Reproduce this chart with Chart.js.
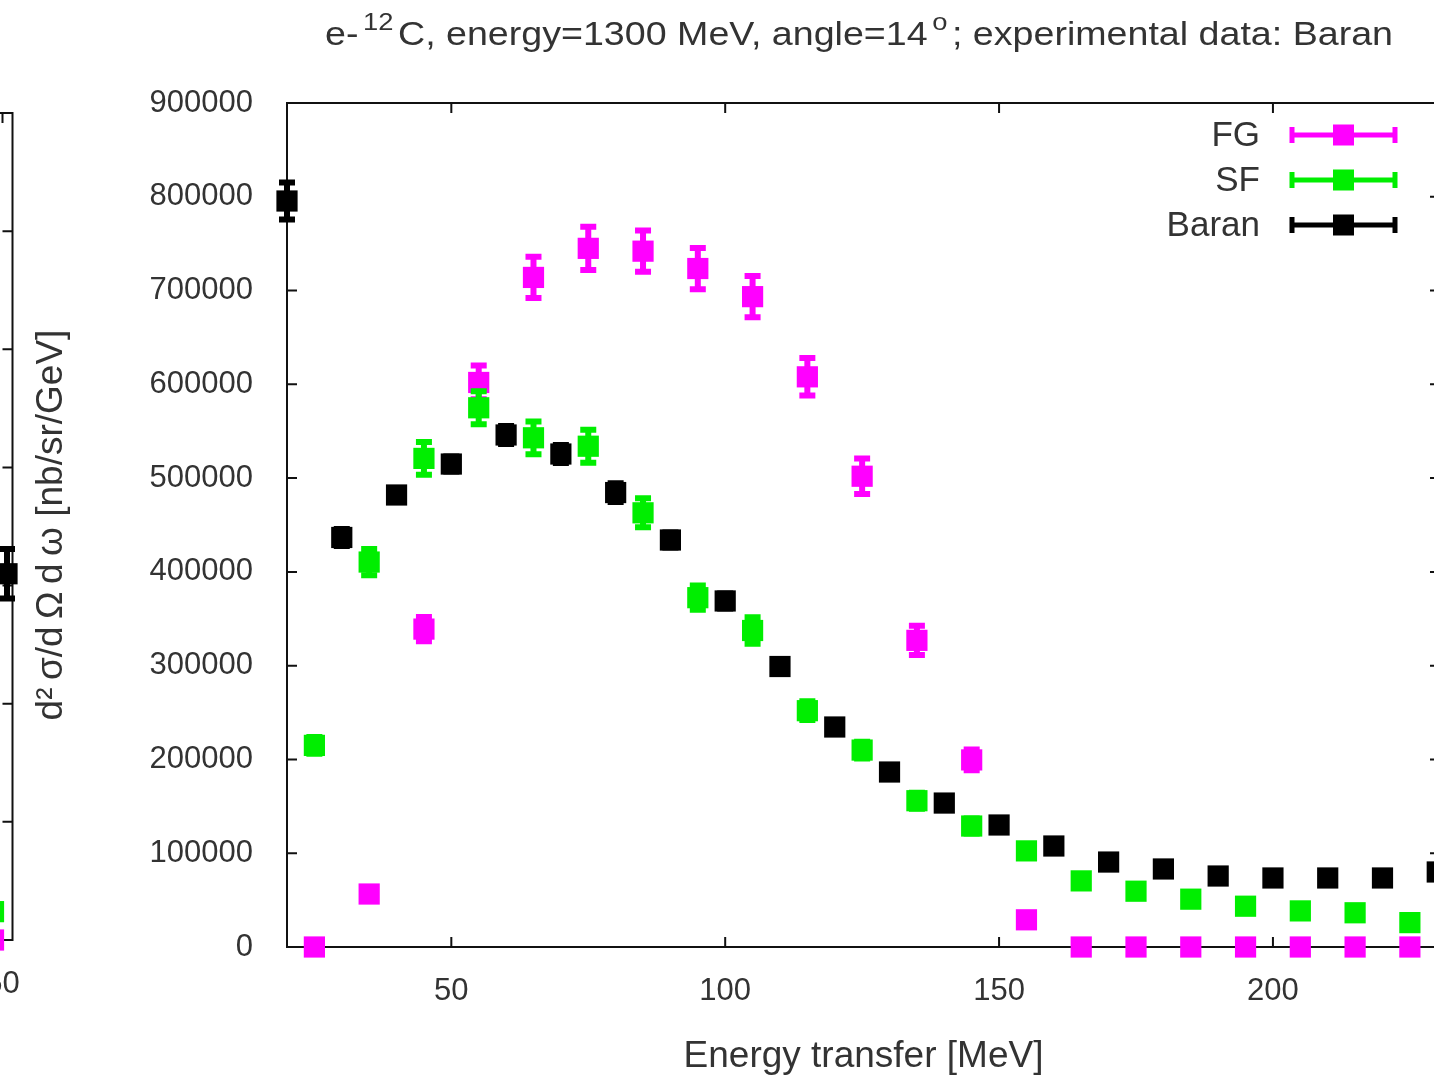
<!DOCTYPE html>
<html>
<head>
<meta charset="utf-8">
<title>e-12C 1300 MeV 14 deg</title>
<script src="https://cdn.jsdelivr.net/npm/chart.js@4.4.0/dist/chart.umd.min.js"></script>
<style>
  html, body { margin: 0; padding: 0; background: #fff; overflow: hidden; width: 1434px; height: 1079px; }
  canvas { position: absolute; top: 0; }
  #left { left: -187px; }
  #main { left: 0; }
</style>
</head>
<body>
<canvas id="left" width="220" height="1079"></canvas>
<canvas id="main" width="1460" height="1079"></canvas>
<script>
// energy transfer [MeV] for the two calculations
var energyCalc = [25, 35, 45, 55, 65, 75, 85, 95, 105, 115, 125, 135, 145, 155, 165, 175, 185, 195, 205, 215, 225];
var fgValues = [0, 56500, 339000, 602000, 714000, 745000, 742000, 723500, 693500, 608000, 502000, 327000, 199500, 29000, 0, 0, 0, 0, 0, 0, 0];
var fgErr    = [0, 4000, 13000, 18000, 22000, 23000, 22000, 22000, 22000, 20000, 19000, 15500, 11000, 3000, 0, 0, 0, 0, 0, 0, 0];
var sfValues = [215000, 410500, 521000, 575000, 543000, 534000, 463000, 372500, 337500, 252000, 210000, 156000, 129000, 102500, 70500, 59500, 51000, 43500, 38500, 36500, 26000];
var sfErr    = [9000, 14000, 17500, 17500, 17500, 17500, 15500, 13000, 14000, 10000, 9000, 8500, 8000, 6000, 5000, 4000, 4000, 3000, 3000, 3000, 2000];

// experimental data (Baran)
var energyData = [20, 30, 40, 50, 60, 70, 80, 90, 100, 110, 120, 130, 140, 150, 160, 170, 180, 190, 200, 210, 220, 230];
var baranValues = [795500, 436700, 482000, 515000, 546000, 525700, 484600, 434000, 369000, 299100, 234600, 186600, 153500, 130100, 107700, 90600, 83200, 75700, 73600, 73600, 73600, 80000];
var baranErr    = [19700, 9000, 5000, 8000, 9500, 9500, 10000, 8000, 8000, 7500, 7000, 6000, 5500, 5000, 4500, 4000, 4000, 3500, 3500, 3500, 3500, 3500];

var xTicks = [50, 100, 150, 200];
var yTicks = [0, 100000, 200000, 300000, 400000, 500000, 600000, 700000, 800000, 900000];

// neighbouring panel, only its right edge is in the picture
var leftEnergyCalc = [45.5];
var leftFg = [0];
var leftSf = [24000];
var leftEnergyData = [52.25];
var leftBaran = [310000];
var leftBaranErr = [21000];
var leftXTicks = [50];
var leftYTicks = [0, 100000, 200000, 300000, 400000, 500000, 600000, 700000];

var titleParts = [['e-', 0], ['12', 1], ['C, energy=1300 MeV, angle=14', 0], ['o', 1], ['; experimental data: Baran', 0]];
var xTitle = 'Energy transfer [MeV]';
var yTitle = 'd\u00b2\u2009\u03c3/d\u2009\u03a9\u2009d\u2009\u03c9 [nb/sr/GeV]';

var FONT = '"Liberation Sans", Arial, sans-serif';
var TEXT = '#333333';
var MAGENTA = '#ff00ff', GREEN = '#00ee00', BLACK = '#000000';

function pts(xs, ys) {
  return xs.map(function (x, i) { return { x: x, y: ys[i] }; });
}

function series(label, xs, ys, errs, color, order) {
  return {
    label: label,
    data: pts(xs, ys),
    errors: errs,
    backgroundColor: color,
    borderColor: color,
    borderWidth: 0,
    pointStyle: 'rect',
    pointRadius: 15,
    pointHoverRadius: 15,
    showLine: false,
    clip: false,
    order: order
  };
}

// border box with inward ticks on all four sides + error bars under each series
var framePlugin = {
  id: 'frame',
  beforeDatasetsDraw: function (chart) {
    var ctx = chart.ctx, a = chart.chartArea, x = chart.scales.x, y = chart.scales.y;
    ctx.save();
    ctx.strokeStyle = '#111';
    ctx.lineWidth = 2;
    ctx.strokeRect(a.left, a.top, a.right - a.left, a.bottom - a.top);
    ctx.beginPath();
    x.ticks.forEach(function (t) {
      var px = x.getPixelForValue(t.value);
      ctx.moveTo(px, a.bottom); ctx.lineTo(px, a.bottom - 10);
      ctx.moveTo(px, a.top); ctx.lineTo(px, a.top + 10);
    });
    y.ticks.forEach(function (t) {
      var py = y.getPixelForValue(t.value);
      ctx.moveTo(a.left, py); ctx.lineTo(a.left + 10, py);
      ctx.moveTo(a.right, py); ctx.lineTo(a.right - 10, py);
    });
    ctx.stroke();
    ctx.restore();
  },
  beforeDatasetDraw: function (chart, args) {
    var ds = chart.data.datasets[args.index];
    if (!ds.errors) return;
    var ctx = chart.ctx, x = chart.scales.x, y = chart.scales.y;
    ctx.save();
    ctx.strokeStyle = ds.borderColor;
    ctx.lineWidth = 6;
    ctx.beginPath();
    ds.data.forEach(function (p, i) {
      var e = ds.errors[i];
      if (!e) return;
      var px = x.getPixelForValue(p.x);
      var lo = y.getPixelForValue(p.y - e), hi = y.getPixelForValue(p.y + e);
      ctx.moveTo(px, lo); ctx.lineTo(px, hi);
      ctx.moveTo(px - 8, lo); ctx.lineTo(px + 8, lo);
      ctx.moveTo(px - 8, hi); ctx.lineTo(px + 8, hi);
    });
    ctx.stroke();
    ctx.restore();
  }
};

// title with raised "12" and "o", stretched to the width gnuplot gave it
var titlePlugin = {
  id: 'supTitle',
  afterDraw: function (chart) {
    var ctx = chart.ctx;
    var big = '33px ' + FONT, small = '24px ' + FONT;
    var left = 325, width = 1068;
    ctx.save();
    ctx.fillStyle = TEXT;
    ctx.textBaseline = 'alphabetic';
    var total = 0;
    titleParts.forEach(function (p) {
      ctx.font = p[1] ? small : big;
      total += ctx.measureText(p[0]).width + (p[1] ? 8 : 0);
    });
    ctx.translate(left, 0);
    ctx.scale(width / total, 1);
    var cx = 0;
    titleParts.forEach(function (p) {
      ctx.font = p[1] ? small : big;
      if (p[1]) cx += 4;
      ctx.fillText(p[0], cx, p[1] ? 30 : 45);
      cx += ctx.measureText(p[0]).width + (p[1] ? 4 : 0);
    });
    ctx.restore();
  }
};

var keyPlugin = {
  id: 'key',
  afterDraw: function (chart) {
    var ctx = chart.ctx;
    var names = ['FG', 'SF', 'Baran'];
    var byLabel = {};
    chart.data.datasets.forEach(function (d) { byLabel[d.label] = d; });
    ctx.save();
    ctx.font = '35px ' + FONT;
    ctx.textAlign = 'right';
    ctx.textBaseline = 'middle';
    names.forEach(function (n, r) {
      var d = byLabel[n];
      var yy = 135 + r * 45;
      ctx.fillStyle = TEXT;
      ctx.fillText(d.label, 1260, yy + 1);
      ctx.strokeStyle = d.borderColor;
      ctx.fillStyle = d.borderColor;
      ctx.lineWidth = 5;
      ctx.beginPath();
      ctx.moveTo(1290, yy); ctx.lineTo(1397, yy);
      ctx.moveTo(1292, yy - 8); ctx.lineTo(1292, yy + 8);
      ctx.moveTo(1395, yy - 8); ctx.lineTo(1395, yy + 8);
      ctx.stroke();
      ctx.fillRect(1333, yy - 10.5, 21, 21);
    });
    ctx.restore();
  }
};

function tickFont() { return { family: FONT, size: 31 }; }
function noPad(s) { s.paddingLeft = 0; s.paddingRight = 0; s.paddingTop = 0; s.paddingBottom = 0; }

new Chart(document.getElementById('main'), {
  type: 'scatter',
  data: {
    datasets: [
      series('FG', energyCalc, fgValues, fgErr, MAGENTA, 3),
      series('SF', energyCalc, sfValues, sfErr, GREEN, 2),
      series('Baran', energyData, baranValues, baranErr, BLACK, 1)
    ]
  },
  options: {
    responsive: false,
    animation: false,
    events: [],
    layout: { padding: { top: 103, right: 20, bottom: 0, left: 0 } },
    plugins: { legend: { display: false }, tooltip: { enabled: false } },
    scales: {
      x: {
        type: 'linear', min: 20, max: 230.5,
        grid: { display: false, drawTicks: false },
        border: { display: false },
        afterBuildTicks: function (s) { s.ticks = xTicks.map(function (v) { return { value: v }; }); },
        afterFit: function (s) { s.height = 132; noPad(s); },
        ticks: { font: tickFont(), color: TEXT, padding: 26, maxRotation: 0,
                 callback: function (v) { return String(v); } },
        title: { display: true, text: xTitle, color: TEXT, font: { family: FONT, size: 37 },
                 padding: { top: 0, bottom: 0 } }
      },
      y: {
        type: 'linear', min: 0, max: 900000,
        grid: { display: false, drawTicks: false },
        border: { display: false },
        afterBuildTicks: function (s) { s.ticks = yTicks.map(function (v) { return { value: v }; }); },
        afterFit: function (s) { s.width = 287; noPad(s); },
        ticks: { font: tickFont(), color: TEXT, padding: 34,
                 callback: function (v) { return String(v); } },
        title: { display: true, text: yTitle, color: TEXT, font: { family: FONT, size: 37 },
                 padding: { top: 30, bottom: 0 } }
      }
    }
  },
  plugins: [framePlugin, titlePlugin, keyPlugin]
});

new Chart(document.getElementById('left'), {
  type: 'scatter',
  data: {
    datasets: [
      series('FG', leftEnergyCalc, leftFg, null, MAGENTA, 3),
      series('SF', leftEnergyCalc, leftSf, null, GREEN, 2),
      series('Baran', leftEnergyData, leftBaran, leftBaranErr, BLACK, 1)
    ]
  },
  options: {
    responsive: false,
    animation: false,
    events: [],
    layout: { padding: { top: 113, right: 20.5, bottom: 0, left: 0 } },
    plugins: { legend: { display: false }, tooltip: { enabled: false } },
    scales: {
      x: {
        type: 'linear', min: 0, max: 55,
        grid: { display: false, drawTicks: false },
        border: { display: false },
        afterBuildTicks: function (s) { s.ticks = leftXTicks.map(function (v) { return { value: v }; }); },
        afterFit: function (s) { s.height = 139; noPad(s); },
        ticks: { font: tickFont(), color: TEXT, padding: 26, maxRotation: 0,
                 callback: function (v) { return String(v); } }
      },
      y: {
        type: 'linear', min: 0, max: 700000,
        grid: { display: false, drawTicks: false },
        border: { display: false },
        afterBuildTicks: function (s) { s.ticks = leftYTicks.map(function (v) { return { value: v }; }); },
        afterFit: function (s) { s.width = 89.5; noPad(s); },
        ticks: { display: false }
      }
    }
  },
  plugins: [framePlugin]
});
</script>
</body>
</html>
